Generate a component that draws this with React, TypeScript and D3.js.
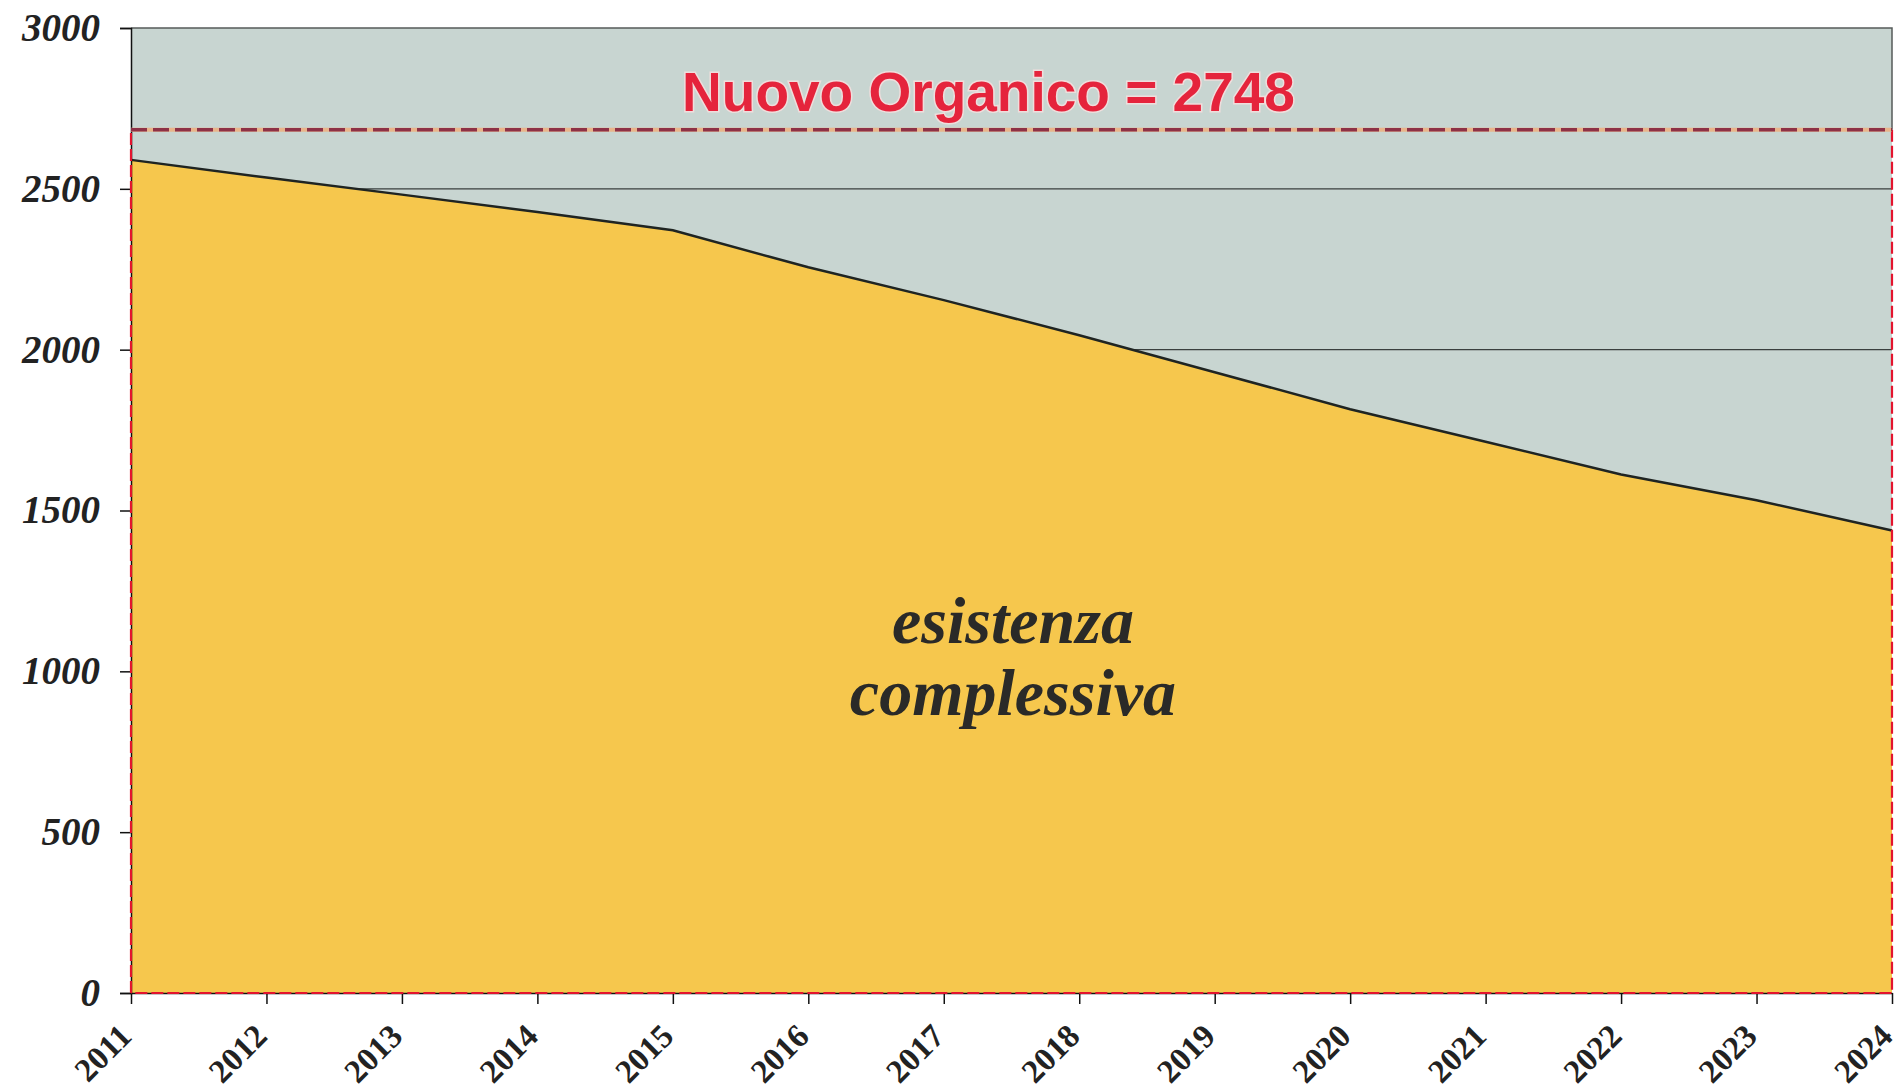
import React, { useRef, useEffect } from 'react'
import * as d3 from 'd3'

const years = [2011, 2012, 2013, 2014, 2015, 2016, 2017, 2018, 2019, 2020, 2021, 2022, 2023, 2024]
const esistenza = [2590, 2535, 2482, 2428, 2371, 2256, 2154, 2045, 1930, 1815, 1714, 1612, 1532, 1438]
const yTicks = [0, 500, 1000, 1500, 2000, 2500, 3000]
const gridValues = [2000, 2500]
const organicoLabel = 'Nuovo Organico = 2748'
// the dashed line in the picture sits a bit below 2748
const organicoLine = 2684
const areaLabel = ['esistenza', 'complessiva']

const W = 1899
const H = 1092
const margin = { top: 28, right: 7, bottom: 99, left: 131 }

const renderChart = (svg: SVGSVGElement) => {
  const svgD3 = d3.select(svg)
  svgD3.selectAll('*').remove()

  const x = d3
    .scaleLinear()
    .domain([years[0], years[years.length - 1]])
    .range([margin.left, W - margin.right])
  const y = d3
    .scaleLinear()
    .domain([0, 3000])
    .range([H - margin.bottom, margin.top])

  const x0 = x.range()[0]
  const x1 = x.range()[1]
  const yb = y(0)
  const yt = y(3000)

  // plot background
  svgD3
    .append('rect')
    .attr('x', x0)
    .attr('y', yt)
    .attr('width', x1 - x0)
    .attr('height', yb - yt)
    .attr('fill', '#c8d5d1')

  // gridlines
  svgD3
    .append('g')
    .selectAll('line')
    .data(gridValues)
    .enter()
    .append('line')
    .attr('x1', x0)
    .attr('x2', x1)
    .attr('y1', (d) => y(d))
    .attr('y2', (d) => y(d))
    .attr('stroke', '#3a3f3e')
    .attr('stroke-width', 1.2)

  // top + right frame
  svgD3
    .append('path')
    .attr('d', `M${x0},${yt}H${x1}V${y(organicoLine)}`)
    .attr('fill', 'none')
    .attr('stroke', '#555b5a')
    .attr('stroke-width', 1.5)

  const pts = years.map((yr, i) => ({ yr, v: esistenza[i] }))

  const area = d3
    .area<{ yr: number; v: number }>()
    .x((d) => x(d.yr))
    .y0(yb)
    .y1((d) => y(d.v))

  const line = d3
    .line<{ yr: number; v: number }>()
    .x((d) => x(d.yr))
    .y((d) => y(d.v))

  svgD3.append('path').datum(pts).attr('d', area).attr('fill', '#f6c74d')

  svgD3
    .append('path')
    .datum(pts)
    .attr('d', line)
    .attr('fill', 'none')
    .attr('stroke', '#1f2422')
    .attr('stroke-width', 2.5)

  // axes
  const yAxis = d3
    .axisLeft(y)
    .tickValues(yTicks)
    .tickSize(11)
    .tickPadding(20)
    .tickFormat((d) => String(d))
  const gy = svgD3.append('g').attr('transform', `translate(${x0},0)`).call(yAxis)
  gy.select('.domain').attr('stroke', '#111').attr('stroke-width', 1.5)
  gy.selectAll('.tick line').attr('stroke', '#111').attr('stroke-width', 1.5)
  gy.selectAll('.tick text')
    .attr('font-family', '"Liberation Serif", "Times New Roman", serif')
    .attr('font-size', 39)
    .attr('font-weight', 'bold')
    .attr('font-style', 'italic')
    .attr('fill', '#222')

  const xAxis = d3
    .axisBottom(x)
    .tickValues(years)
    .tickSize(11)
    .tickSizeOuter(0)
    .tickFormat((d) => String(d))
  const gx = svgD3.append('g').attr('transform', `translate(0,${yb})`).call(xAxis)
  gx.select('.domain').attr('stroke', '#111').attr('stroke-width', 1.5)
  gx.selectAll('.tick line').attr('stroke', '#111').attr('stroke-width', 1.5)
  gx.selectAll('.tick text')
    .attr('font-family', '"Liberation Serif", "Times New Roman", serif')
    .attr('font-size', 33)
    .attr('font-weight', 'bold')
    .attr('fill', '#222')
    .attr('text-anchor', 'end')
    .attr('dy', null)
    .attr('y', null)
    .attr('transform', 'translate(2,45) rotate(-45)')

  // red dashed frame: sides + bottom
  const yo = y(organicoLine)
  svgD3
    .append('path')
    .attr('d', `M${x0},${yb}V${yo}M${x1},${yo}V${yb}H${x0}`)
    .attr('fill', 'none')
    .attr('stroke', '#e3142e')
    .attr('stroke-width', 2.2)
    .attr('stroke-dasharray', '12 4')

  // organico dashed line
  svgD3
    .append('line')
    .attr('x1', x0)
    .attr('x2', x1)
    .attr('y1', yo)
    .attr('y2', yo)
    .attr('stroke', '#e9b48a')
    .attr('stroke-width', 4)
  svgD3
    .append('line')
    .attr('x1', x0)
    .attr('x2', x1)
    .attr('y1', yo)
    .attr('y2', yo)
    .attr('stroke', '#8e3146')
    .attr('stroke-width', 3.5)
    .attr('stroke-dasharray', '16 6')

  svgD3
    .append('text')
    .attr('x', (x0 + x1) / 2 - 23)
    .attr('y', 111)
    .attr('text-anchor', 'middle')
    .attr('font-family', '"Liberation Sans", Arial, sans-serif')
    .attr('font-weight', 'bold')
    .attr('font-size', 55)
    .attr('fill', '#e5243c')
    .attr('stroke', 'rgba(255,225,225,0.7)')
    .attr('stroke-width', 3)
    .attr('paint-order', 'stroke')
    .text(organicoLabel)

  svgD3
    .append('g')
    .selectAll('text')
    .data(areaLabel)
    .enter()
    .append('text')
    .attr('x', 1013)
    .attr('y', (d, i) => 643 + i * 72)
    .attr('text-anchor', 'middle')
    .attr('font-family', '"Liberation Serif", "Times New Roman", serif')
    .attr('font-weight', 'bold')
    .attr('font-style', 'italic')
    .attr('font-size', 66)
    .attr('fill', '#2a2a28')
    .text((d) => d)
}

export default function App() {
  const ref = useRef<SVGSVGElement>(null)
  useEffect(() => {
    if (ref.current) renderChart(ref.current)
  }, [])
  return (
    <svg
      ref={ref}
      width={W}
      height={H}
      style={{ position: 'absolute', left: 0, top: 0, background: '#fff', display: 'block' }}
    />
  )
}
